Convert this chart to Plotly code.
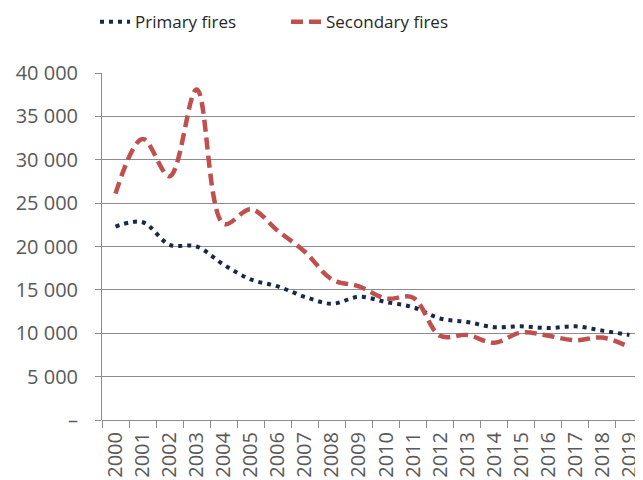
import plotly.graph_objects as go

years = [str(y) for y in range(2000, 2020)]

primary_fires = [22300, 22800, 20200, 20000, 17900, 16200, 15400, 14200, 13400, 14200,
                 13600, 13000, 11700, 11300, 10700, 10800, 10600, 10800, 10300, 9800]

secondary_fires = [26100, 32400, 28100, 38100, 22600, 24300, 21800, 19400, 16200, 15400,
                   14000, 14100, 9700, 9800, 8900, 10100, 9700, 9200, 9500, 8400]

y_tick_vals = [0, 5000, 10000, 15000, 20000, 25000, 30000, 35000, 40000]
y_tick_text = ["–", "5 000", "10 000", "15 000", "20 000", "25 000", "30 000", "35 000", "40 000"]

grey = "#8c8c8c"
text_grey = "#595959"

fig = go.Figure()

# primary: dark navy dotted line
fig.add_trace(
    go.Scatter(
        name="Primary fires",
        x=years,
        y=primary_fires,
        mode="lines",
        line=dict(color="#17294a", width=4, dash="4px,5px", shape="spline", smoothing=1),
    )
)

# secondary: red dashed line
fig.add_trace(
    go.Scatter(
        name="Secondary fires",
        x=years,
        y=secondary_fires,
        mode="lines",
        line=dict(color="#c0504d", width=4.5, dash="12px,6px", shape="spline", smoothing=1),
    )
)

# page body has an 8px margin, so the figure is 8px smaller on each side
fig.update_layout(
    width=635,
    height=472,
    margin=dict(l=94, r=0, t=65, b=60, autoexpand=False),
    plot_bgcolor="white",
    paper_bgcolor="white",
    font=dict(family="Open Sans", color=text_grey, size=18),
    legend=dict(
        orientation="h",
        xref="container",
        yref="container",
        x=0.137,
        xanchor="left",
        y=0.97,
        yanchor="middle",
        font=dict(size=17, color="#262626"),
        entrywidth=146,
        entrywidthmode="pixels",
        tracegroupgap=0,
    ),
)

fig.update_xaxes(
    type="category",
    range=[-0.5, 19.5],
    automargin=False,
    tickson="boundaries",
    ticks="outside",
    ticklen=7,
    tickcolor=grey,
    tickangle=-90,
    tickfont=dict(size=20, color=text_grey),
    showgrid=False,
    showline=False,
    zeroline=False,
    ticklabelstandoff=7,
)

fig.update_yaxes(
    range=[0, 40000],
    automargin=False,
    tickvals=y_tick_vals,
    ticktext=y_tick_text,
    ticks="outside",
    ticklen=6,
    tickcolor=grey,
    tickfont=dict(size=20, color=text_grey),
    showgrid=True,
    gridcolor=grey,
    gridwidth=1,
    showline=True,
    linecolor=grey,
    linewidth=1,
    zeroline=True,
    zerolinecolor=grey,
    zerolinewidth=1,
    ticklabelstandoff=13,
)

fig.write_html("out.html")
